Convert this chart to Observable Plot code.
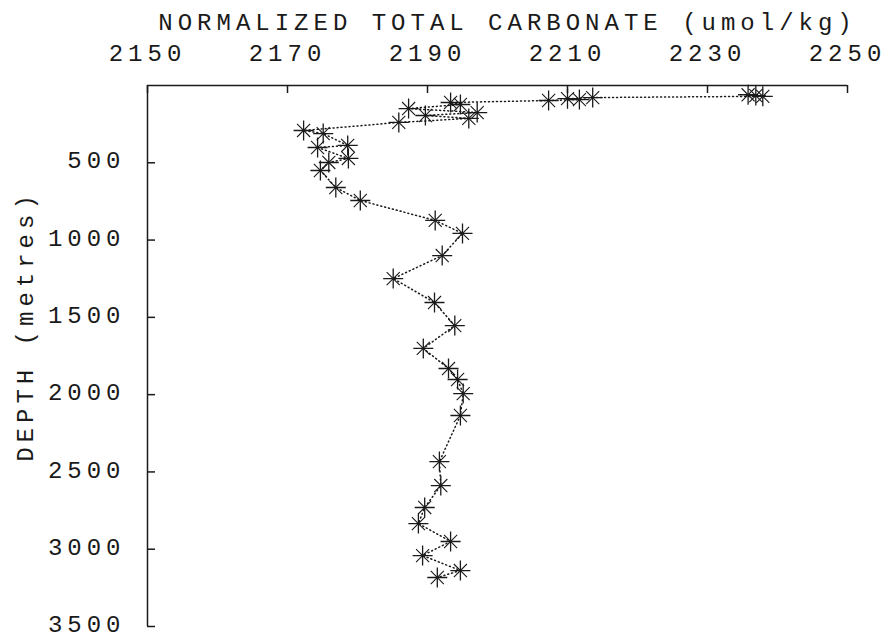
<!DOCTYPE html>
<html>
<head>
<meta charset="utf-8">
<script src="https://cdn.jsdelivr.net/npm/d3@7"></script>
<script src="https://cdn.jsdelivr.net/npm/@observablehq/plot@0.6"></script>
<style>
  html, body { margin: 0; padding: 0; background: #fff; }
  #chart svg text { letter-spacing: 5px; }
</style>
</head>
<body>
<div id="chart"></div>
<script>
// Depth profile of normalized total carbonate (one station, surface to ~3200 m)
const depth = [60, 65, 70, 78, 85, 91, 97, 110, 123, 149, 175, 194, 213, 239,
  291, 311, 388, 401, 472, 498, 550, 660, 744, 873, 957, 1100, 1249, 1404,
  1553, 1701, 1831, 1902, 1993, 2135, 2433, 2588, 2730, 2834, 2950, 3041, 3138, 3183];
const carbonate = [2235.8, 2236.9, 2237.9, 2213.6, 2210.0, 2211.7, 2207.3, 2193.3,
  2194.7, 2187.3, 2197.1, 2189.7, 2195.9, 2185.9, 2172.3, 2175.1, 2178.6, 2174.3,
  2178.7, 2175.9, 2174.7, 2176.9, 2180.4, 2191.1, 2195.0, 2192.1, 2185.1, 2191.0,
  2193.9, 2189.4, 2193.0, 2194.3, 2195.1, 2194.7, 2191.7, 2191.9, 2189.6, 2188.7,
  2193.3, 2189.3, 2194.7, 2191.4];

const xTicks = [2150, 2170, 2190, 2210, 2230, 2250];
const yTicks = [500, 1000, 1500, 2000, 2500, 3000, 3500];
const xTitle = "NORMALIZED TOTAL CARBONATE (umol/kg)";
const yTitle = "DEPTH (metres)";

const samples = depth.map((d, i) => ({depth: d, tco2: carbonate[i]}));

const W = 889, H = 638;
const M = {top: 85, left: 147, right: 42, bottom: 12};
const frameW = W - M.left - M.right;
const frameH = H - M.top - M.bottom;
const tick = 8; // inward tick length in px
const ink = "#1a1a1a";

const chart = Plot.plot({
  width: W,
  height: H,
  marginTop: M.top,
  marginLeft: M.left,
  marginRight: M.right,
  marginBottom: M.bottom,
  style: {fontFamily: "'Liberation Mono', 'DejaVu Sans Mono', monospace", fontSize: "24px", background: "#fff", color: ink},
  x: {domain: [2150, 2250]},
  y: {domain: [0, 3500], reverse: true},
  marks: [
    // axis lines along the top and left edges
    Plot.ruleY([0], {stroke: ink, strokeWidth: 1.5}),
    Plot.ruleX([2150], {stroke: ink, strokeWidth: 1.5}),
    // short inward ticks
    Plot.gridX(xTicks, {stroke: ink, strokeOpacity: 1, strokeWidth: 1.5, insetBottom: frameH - tick}),
    Plot.gridY(yTicks, {stroke: ink, strokeOpacity: 1, strokeWidth: 1.5, insetRight: frameW - tick}),
    // tick labels
    Plot.axisX(xTicks, {anchor: "top", tickSize: 0, tickPadding: 25, label: null, tickFormat: d => String(d)}),
    Plot.axisY(yTicks, {anchor: "left", tickSize: 0, tickPadding: 22, dy: -2, label: null, tickFormat: d => String(d)}),
    // axis titles
    Plot.text([xTitle], {text: d => d, frameAnchor: "top", lineAnchor: "middle", textAnchor: "middle", dx: 10, dy: -63}),
    Plot.text([yTitle], {text: d => d, frameAnchor: "left", lineAnchor: "middle", textAnchor: "middle", rotate: -90, dx: -122, dy: -30}),
    // dotted profile line
    Plot.line(samples, {x: "tco2", y: "depth", stroke: ink, strokeWidth: 1.5, strokeDasharray: "1 3"}),
    // plotter-style star markers
    Plot.dot(samples, {x: "tco2", y: "depth", symbol: "plus", r: 6.5, stroke: ink, strokeWidth: 1.3}),
    Plot.dot(samples, {x: "tco2", y: "depth", symbol: "times", r: 6, stroke: ink, strokeWidth: 1.1})
  ]
});

document.getElementById("chart").appendChild(chart);
</script>
</body>
</html>
